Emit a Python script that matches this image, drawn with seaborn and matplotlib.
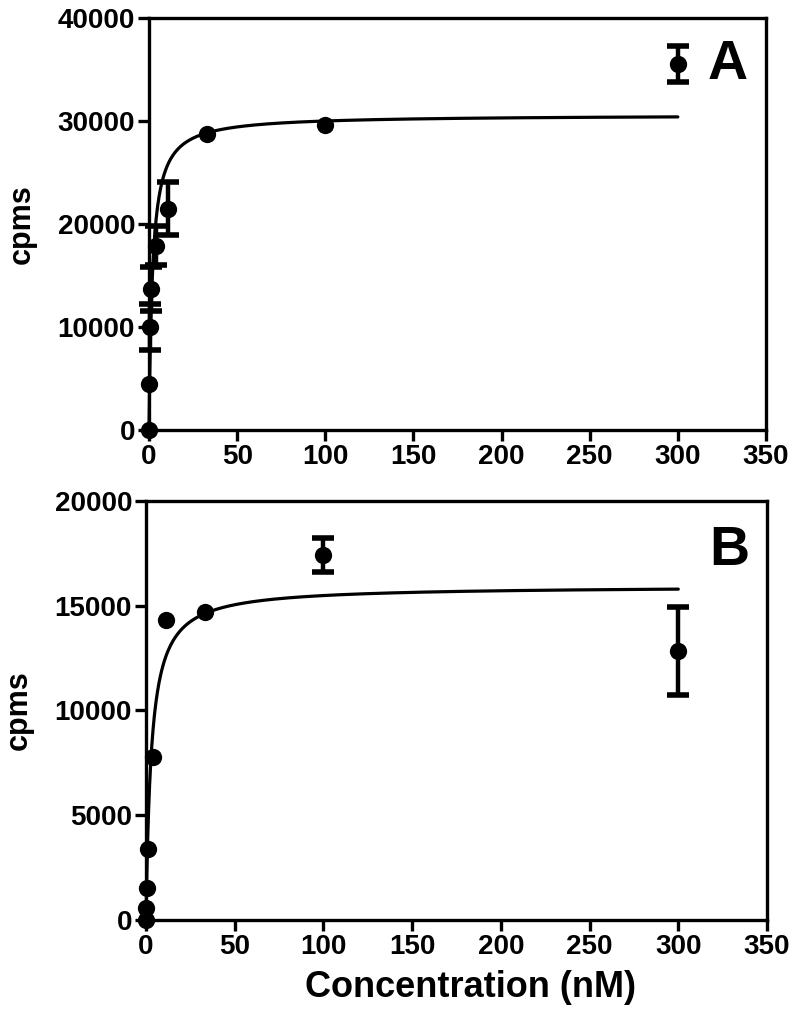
import numpy as np
import pandas as pd
import matplotlib
matplotlib.use("Agg")
import matplotlib.pyplot as plt
import seaborn as sns

# ---- data ----
conc = [0, 0.12, 0.37, 1.1, 3.7, 11, 33, 100, 300]

cpm_a = [0, 4500, 10000, 13700, 17900, 21500, 28700, 29600, 35500]
err_a = [0, 0, 2200, 2100, 1900, 2600, 0, 0, 1750]

cpm_b = [0, 580, 1530, 3400, 7780, 14330, 14680, 17400, 12850]
err_b = [0, 0, 0, 0, 0, 0, 0, 810, 2100]

# one-site binding fit parameters (Bmax, Kd)
fit_a = (30600, 2.0)
fit_b = (15950, 3.0)

xticks = [0, 50, 100, 150, 200, 250, 300, 350]
yticks_a = [0, 10000, 20000, 30000, 40000]
yticks_b = [0, 5000, 10000, 15000, 20000]

sns.set_theme(style="ticks")
plt.rcParams['font.family'] = ['Liberation Sans', 'DejaVu Sans']
plt.rcParams['font.weight'] = 'bold'
plt.rcParams['axes.labelweight'] = 'bold'
plt.rcParams['axes.labelcolor'] = 'black'
plt.rcParams['text.color'] = 'black'

fig = plt.figure(figsize=(8.0, 10.27), dpi=100)
ax_a = fig.add_axes([0.18625, 0.5813, 0.77125, 0.4012])
ax_b = fig.add_axes([0.1825, 0.1042, 0.77625, 0.4080])


def draw(ax, y, err, fit, yticks, letter, letter_pos, xlabel):
    df = pd.DataFrame({"conc": conc, "cpm": y, "err": err})
    xs = np.concatenate([np.linspace(0, 5, 200), np.linspace(5, 300, 400)])
    bmax, kd = fit
    cdf = pd.DataFrame({"x": xs, "y": bmax * xs / (kd + xs)})
    sns.lineplot(data=cdf, x="x", y="y", ax=ax, color="black", lw=2.3,
                 clip_on=False, zorder=2)
    e = df[df["err"] > 0]
    ax.errorbar(e["conc"], e["cpm"], yerr=e["err"], fmt="none", ecolor="black",
                elinewidth=3.2, capsize=8, capthick=4, clip_on=False, zorder=3)
    sns.scatterplot(data=df, x="conc", y="cpm", ax=ax, color="black", s=155,
                    edgecolor="black", linewidth=0, clip_on=False, zorder=4)
    ax.set_xlim(0, 350)
    ax.set_ylim(yticks[0], yticks[-1])
    ax.set_xticks(xticks)
    ax.set_yticks(yticks)
    ax.set_xticklabels([str(t) for t in xticks], fontsize=20, fontweight='bold')
    ax.set_yticklabels([str(t) for t in yticks], fontsize=20, fontweight='bold')
    ax.set_ylabel("cpms", fontsize=22, fontweight='bold', labelpad=15, color="black")
    ax.set_xlabel(xlabel, fontsize=26, fontweight='bold', color="black",
                  va="center")
    ax.xaxis.set_label_coords(0.523, -0.162)
    for sp in ax.spines.values():
        sp.set_linewidth(2.4)
        sp.set_color("black")
        sp.set_visible(True)
    ax.tick_params(axis="both", direction="out", length=8, width=2.4,
                   color="black", pad=2, labelcolor="black")
    ax.text(letter_pos[0], letter_pos[1], letter, fontsize=40, fontweight='bold',
            ha="center", va="center", color="black")


draw(ax_a, cpm_a, err_a, fit_a, yticks_a, "A", (328, 35400), "")
draw(ax_b, cpm_b, err_b, fit_b, yticks_b, "B", (329, 17600), "Concentration (nM)")

fig.savefig("out.png", dpi=100, facecolor="white")
